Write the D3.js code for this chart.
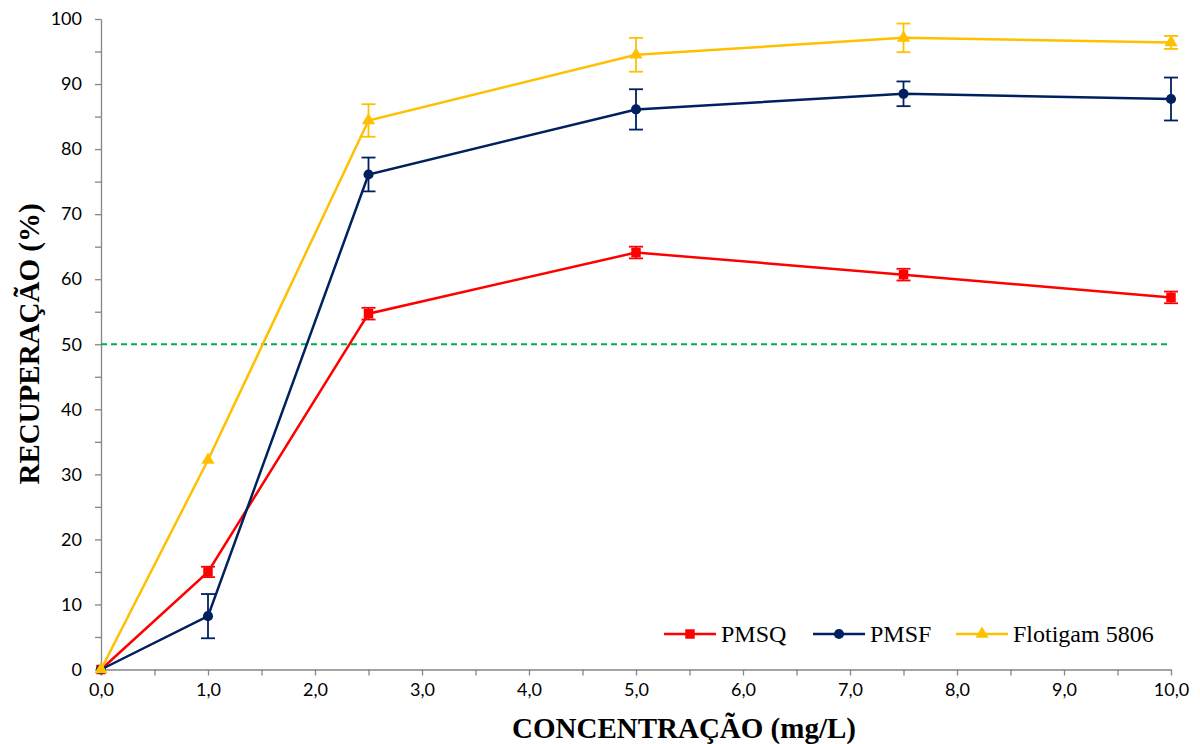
<!DOCTYPE html>
<html>
<head>
<meta charset="utf-8">
<script src="https://cdn.jsdelivr.net/npm/d3@7"></script>
<style>
  body { margin: 0; background: #fff; }
  .tick text { font-family: Lato, "Open Sans", sans-serif; font-size: 18px; fill: #000; }
  .axis path, .axis line { stroke: #868686; stroke-width: 1.3; }
</style>
</head>
<body>
<svg id="chart" width="1200" height="744"></svg>
<script>
// concentration (mg/L)
var conc = [0, 1.0, 2.5, 5.0, 7.5, 10.0];

// recovery (%) and error bar half-widths
var pmsq = [0, 15.0, 54.7, 64.1, 60.7, 57.2];
var pmsqErr = [0, 0.8, 0.9, 0.9, 0.9, 0.9];
var pmsf = [0, 8.2, 76.1, 86.1, 88.5, 87.7];
var pmsfErr = [0, 3.4, 2.6, 3.1, 1.9, 3.3];
var flotigam = [0, 32.2, 84.4, 94.5, 97.1, 96.4];
var flotigamErr = [0, 0, 2.5, 2.6, 2.2, 1.0];

var seriesNames = ['PMSQ', 'PMSF', 'Flotigam 5806'];
var xTicks = [0, 1, 2, 3, 4, 5, 6, 7, 8, 9, 10];
var yTicks = [0, 10, 20, 30, 40, 50, 60, 70, 80, 90, 100];
var refLine = 50;

var series = [
  {name: seriesNames[0], vals: pmsq, err: pmsqErr, color: '#ff0000', shape: 'square'},
  {name: seriesNames[1], vals: pmsf, err: pmsfErr, color: '#002060', shape: 'circle'},
  {name: seriesNames[2], vals: flotigam, err: flotigamErr, color: '#ffc000', shape: 'triangle'}
];

var svg = d3.select('#chart');
var plotLeft = 101, plotRight = 1171, plotTop = 19, plotBottom = 669.5;

var x = d3.scaleLinear().domain([0, 10]).range([plotLeft, plotRight]);
var y = d3.scaleLinear().domain([0, 100]).range([plotBottom, plotTop]);

// minor ticks
svg.append('g')
    .attr('class', 'axis')
    .attr('transform', 'translate(0,' + plotBottom + ')')
    .call(d3.axisBottom(x).tickValues(d3.range(0.5, 10, 1)).tickSize(6).tickFormat(''))
    .select('.domain').remove();
svg.append('g')
    .attr('class', 'axis')
    .attr('transform', 'translate(' + plotLeft + ',0)')
    .call(d3.axisLeft(y).tickValues(d3.range(5, 100, 10)).tickSize(6).tickFormat(''))
    .select('.domain').remove();

// main axes
svg.append('g')
    .attr('class', 'axis')
    .attr('transform', 'translate(0,' + plotBottom + ')')
    .call(d3.axisBottom(x).tickValues(xTicks).tickSize(6).tickSizeOuter(0).tickPadding(8)
      .tickFormat(function(d) { return d3.format('.1f')(d).replace('.', ','); }));

svg.append('g')
    .attr('class', 'axis')
    .attr('transform', 'translate(' + plotLeft + ',0)')
    .call(d3.axisLeft(y).tickValues(yTicks).tickSize(6).tickSizeOuter(0).tickPadding(13));

// 50% reference
svg.append('line')
    .attr('x1', x(0)).attr('x2', x(10))
    .attr('y1', y(refLine)).attr('y2', y(refLine))
    .attr('stroke', '#00b050')
    .attr('stroke-width', 2)
    .attr('stroke-dasharray', '6,4');

var line = d3.line()
    .x(function(d, i) { return x(conc[i]); })
    .y(function(d) { return y(d); });

var symbolFor = function(shape) {
  var t = shape == 'square' ? d3.symbolSquare : shape == 'circle' ? d3.symbolCircle : d3.symbolTriangle;
  var size = shape == 'square' ? 90 : shape == 'circle' ? 80 : 75;
  return d3.symbol().type(t).size(size)();
};

series.forEach(function(s) {
  var g = svg.append('g');
  g.append('path')
      .datum(s.vals)
      .attr('fill', 'none')
      .attr('stroke', s.color)
      .attr('stroke-width', 2.5)
      .attr('d', line);

  // error bars
  s.vals.forEach(function(v, i) {
    if (!s.err[i]) return;
    var cx = x(conc[i]);
    var y1 = y(v + s.err[i]), y2 = y(v - s.err[i]);
    g.append('line').attr('x1', cx).attr('x2', cx).attr('y1', y1).attr('y2', y2)
        .attr('stroke', s.color).attr('stroke-width', 1.8);
    [y1, y2].forEach(function(yy) {
      g.append('line').attr('x1', cx - 7).attr('x2', cx + 7).attr('y1', yy).attr('y2', yy)
          .attr('stroke', s.color).attr('stroke-width', 1.8);
    });
  });

  g.selectAll('path.pt')
      .data(s.vals)
      .enter().append('path')
      .attr('class', 'pt')
      .attr('transform', function(d, i) { return 'translate(' + x(conc[i]) + ',' + y(d) + ')'; })
      .attr('d', symbolFor(s.shape))
      .attr('fill', s.color);
});

// legend
var legendX = [664, 813, 956];
var legendY = 634;
series.forEach(function(s, i) {
  var lx = legendX[i];
  svg.append('line')
      .attr('x1', lx).attr('x2', lx + 52)
      .attr('y1', legendY).attr('y2', legendY)
      .attr('stroke', s.color).attr('stroke-width', 2.5);
  svg.append('path')
      .attr('transform', 'translate(' + (lx + 26) + ',' + legendY + ')')
      .attr('d', symbolFor(s.shape))
      .attr('fill', s.color);
  svg.append('text')
      .attr('x', lx + 57).attr('y', legendY + 8)
      .attr('font-family', '"Liberation Serif", "Times New Roman", serif')
      .attr('font-size', 24)
      .text(s.name);
});

// axis titles
svg.append('text')
    .attr('x', 684).attr('y', 738)
    .attr('text-anchor', 'middle')
    .attr('font-family', '"Liberation Serif", "Times New Roman", serif')
    .attr('font-weight', 'bold')
    .attr('font-size', 29)
    .text('CONCENTRAÇÃO (mg/L)');

svg.append('text')
    .attr('transform', 'translate(39,344) rotate(-90)')
    .attr('text-anchor', 'middle')
    .attr('font-family', '"Liberation Serif", "Times New Roman", serif')
    .attr('font-weight', 'bold')
    .attr('font-size', 29)
    .text('RECUPERAÇÃO (%)');
</script>
</body>
</html>
